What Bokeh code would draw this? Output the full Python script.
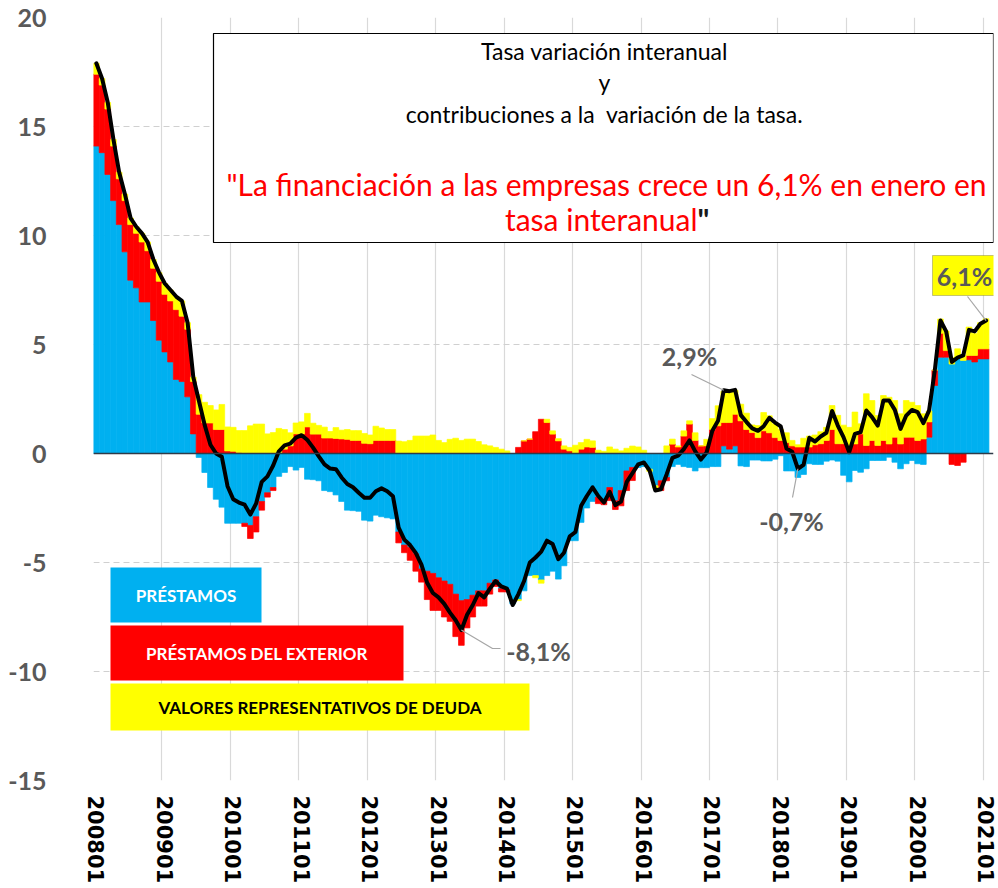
import numpy as np
from bokeh.plotting import figure
from bokeh.models import ColumnDataSource, FixedTicker, Span, BoxAnnotation, Label, Range1d
from bokeh.embed import file_html
from bokeh.resources import INLINE

# ---------------- data (monthly, 2008-01 .. 2021-01) ----------------
tick_labels = ["200801", "200901", "201001", "201101", "201201", "201301", "201401",
               "201501", "201601", "201701", "201801", "201901", "202001", "202101"]

prestamos = [
    14.1, 13.8, 12.8, 11.6, 10.5, 9.25, 7.95, 7.6, 6.95, 6.95, 6.1, 5.2,          # 2008
    4.66, 4.2, 3.4, 3.3, 2.6, 0.9, -0.18, -0.87, -1.56, -2.1, -2.46, -3.2,         # 2009
    -3.2, -3.2, -3.2, -3.3, -2.9, -2.2, -1.8, -1.56, -1.05, -0.87, -0.6, -0.76,    # 2010
    -0.64, -1.18, -1.2, -1.25, -1.7, -1.75, -1.9, -2.2, -2.6, -2.62, -2.65, -3.06, # 2011
    -3.1, -2.83, -2.9, -2.95, -3.0, -3.6, -4.2, -4.3, -4.6, -5.3, -5.4, -5.5,      # 2012
    -5.7, -5.85, -6.0, -6.45, -6.75, -6.7, -6.5, -6.3, -6.3, -5.95, -5.8, -6.2,    # 2013
    -6.25, -6.9, -6.7, -6.3, -5.6, -5.6, -5.8, -5.6, -5.4, -5.76, -5.15, -4.0,     # 2014
    -4.0, -3.16, -2.5, -2.2, -2.0, -2.2, -1.56, -2.17, -1.7, -0.8, -0.64, -0.64,   # 2015
    -0.6, -0.72, -1.48, -1.25, -1.1, -0.6, -0.5, -0.6, -0.64, -0.8, -0.65, -0.65,  # 2016
    -0.6, -0.6, 0.35, 0.2, 0.35, -0.57, -0.6, -0.3, -0.3, -0.34, -0.34, -0.26,     # 2017
    -0.1, -0.8, -0.8, -1.1, -0.96, -0.47, -0.5, -0.5, -0.35, -0.3, -0.35, -1.0,    # 2018
    -1.3, -0.78, -0.86, -0.7, -0.32, -0.32, -0.32, -0.17, -0.4, -0.7, -0.47, -0.32,# 2019
    -0.47, -0.5, 0.75, 3.12, 4.42, 4.42, 4.1, 4.42, 4.27, 4.3, 4.2, 4.34,          # 2020
    4.34,                                                                          # 2021
]

exterior = [
    3.3, 3.1, 3.0, 2.5, 2.1, 2.35, 2.55, 2.5, 2.75, 2.35, 2.4, 2.7,
    2.64, 2.8, 3.2, 3.0, 3.1, 2.4, 1.8, 1.4, 1.4, 1.1, 1.1, 0.12,
    0.1, 0.05, -0.15, -0.6, -0.7, -0.4, -0.2, -0.14, 0.0, 0.2, 0.35, 0.9,
    0.9, 1.22, 0.89, 0.89, 0.71, 0.71, 0.69, 0.67, 0.65, 0.6, 0.6, 0.47,
    0.45, 0.6, 0.6, 0.6, 0.6, -0.5, -0.35, -0.6, -0.8, -0.6, -1.3, -1.7,
    -1.5, -1.65, -1.7, -1.95, -2.05, -1.3, -1.0, -0.7, -0.7, -0.5, -0.3, -0.15,
    -0.1, 0.0, 0.28, 0.58, 0.66, 1.0, 1.57, 1.42, 0.89, 0.58, 0.2, 0.12,
    0.0, 0.2, 0.3, 0.28, -0.3, -0.15, -0.6, -0.4, -0.7, -0.9, -0.6, 0.0,
    0.0, 0.0, 0.0, -0.45, -0.15, 0.43, 0.3, 0.8, 1.35, 0.6, 0.35, 0.35,
    1.1, 1.27, 1.07, 1.22, 1.45, 1.5, 1.1, 0.96, 0.73, 1.04, 0.95, 0.73,
    0.6, 0.5, 0.35, 0.3, 0.3, 0.3, 0.4, 0.45, 0.6, 1.1, 0.45, 0.45,
    0.3, 0.44, 0.9, 0.37, 0.6, 0.37, 0.6, 0.44, 0.75, 0.44, 0.75, 0.75,
    0.6, 0.67, 0.7, 0.7, 1.1, 0.3, -0.5, -0.55, -0.4, 0.2, 0.3, 0.46,
    0.46,
]

valores = [
    0.5, 0.3, 0.3, 0.3, 0.3, 0.3, 0.3, 0.3, 0.4, 0.4, 0.4, 0.4,
    0.5, 0.5, 0.6, 0.7, 0.3, 0.2, 0.9, 0.95, 0.8, 0.9, 1.15, 1.1,
    1.1, 1.0, 1.05, 1.27, 1.35, 1.35, 0.9, 0.96, 1.15, 0.9, 0.6, 0.5,
    0.55, 0.62, 0.5, 0.4, 0.5, 0.3, 0.5, 0.4, 0.45, 0.45, 0.45, 0.45,
    0.4, 0.65, 0.57, 0.5, 0.5, 0.57, 0.54, 0.6, 0.8, 0.8, 0.8, 0.85,
    0.6, 0.5, 0.65, 0.7, 0.6, 0.66, 0.66, 0.55, 0.4, 0.35, 0.28, 0.2,
    0.12, 0.0, -0.05, 0.0, 0.0, -0.1, -0.15, 0.15, 0.15, 0.1, 0.15, 0.16,
    0.38, 0.3, 0.35, 0.3, 0.15, 0.1, 0.3, 0.2, 0.12, 0.24, 0.34, 0.3,
    0.15, -0.1, -0.1, 0.0, 0.35, 0.23, 0.05, 0.24, 0.15, 0.35, 0.0, 0.3,
    0.5, 0.92, 1.43, 1.43, 1.1, 0.76, 0.75, 0.35, 0.55, 0.84, 0.78, 0.62,
    0.5, 0.45, 0.25, 0.1, 0.4, 0.5, 0.45, 0.55, 0.6, 1.1, 1.3, 0.85,
    0.9, 1.46, 0.46, 2.37, 1.83, 1.37, 2.06, 2.14, 1.68, 1.38, 1.68, 1.6,
    1.6, 1.15, 0.5, 0.0, 0.65, 0.9, 0.3, 0.38, 0.23, 1.3, 1.0, 1.2,
    1.38,
]

total = [
    17.9, 17.2, 16.1, 14.4, 12.9, 11.9, 10.8, 10.4, 10.1, 9.7, 8.9, 8.3,
    7.8, 7.5, 7.2, 7.0, 6.0, 3.5, 2.4, 1.3, 0.4, 0.0, -0.15, -1.5,
    -2.1, -2.25, -2.35, -2.8, -2.3, -1.3, -1.05, -0.55, 0.1, 0.37, 0.45, 0.73,
    0.84, 0.62, 0.27, -0.13, -0.5, -0.69, -0.72, -1.1, -1.4, -1.55, -1.8, -2.03,
    -2.03, -1.73, -1.6, -1.73, -1.96, -3.4, -3.95, -4.2, -4.56, -5.1, -5.93, -6.4,
    -6.6, -6.9, -7.3, -7.65, -8.1, -7.4, -6.95, -6.4, -6.6, -6.2, -5.85, -6.1,
    -6.2, -6.95, -6.45, -5.85, -5.0, -4.77, -4.5, -4.0, -4.15, -4.85, -4.55, -3.8,
    -3.6, -2.4, -1.95, -1.55, -1.95, -2.25, -1.76, -2.37, -2.2, -1.3, -0.9, -0.5,
    -0.41, -0.78, -1.7, -1.64, -0.95, -0.2, -0.1, 0.2, 0.6, 0.1, -0.28, 0.05,
    1.04, 1.5, 2.9, 2.86, 2.92, 1.76, 1.44, 1.15, 1.04, 1.25, 1.64, 1.42,
    1.24, 0.23, 0.08, -0.7, -0.52, 0.72, 0.55, 0.78, 0.95, 1.95, 1.28, 0.75,
    0.06, 0.9, 0.98, 1.97, 1.67, 1.28, 2.43, 2.43, 2.0, 1.13, 1.74, 2.0,
    1.9, 1.39, 1.97, 3.8, 6.1, 5.6, 4.2, 4.4, 4.5, 5.67, 5.6, 5.95,
    6.1,
]

series_names = ["PRÉSTAMOS", "PRÉSTAMOS DEL EXTERIOR", "VALORES REPRESENTATIVOS DE DEUDA"]
series_colors = ["#00B0F0", "#FF0000", "#FFFF00"]
title_lines = ["Tasa variación interanual", "y", "contribuciones a la\u00a0 variación de la tasa."]
headline = ['"La financiación a las empresas crece un 6,1% en enero en', "tasa interanual"]

# annotated points: (month index, label)
annotations = [(110, "2,9%"), (123, "-0,7%"), (64, "-8,1%"), (156, "6,1%")]

n = len(total)
assert len(prestamos) == n and len(exterior) == n and len(valores) == n
xs = np.arange(n)

# stacking like Excel: positives and negatives stack separately
pos = np.zeros(n)
neg = np.zeros(n)
stacks = []
for s in (prestamos, exterior, valores):
    s = np.array(s, dtype=float)
    b = np.where(s >= 0, pos, neg + s)
    t = np.where(s >= 0, pos + s, neg)
    pos = np.where(s >= 0, pos + s, pos)
    neg = np.where(s < 0, neg + s, neg)
    stacks.append((b, t))

# ---------------- figure ----------------
W, H = 998, 888
BL, BR, BT, BB = 93, 5, 17, 108
X_END = 157.3
p = figure(width=W, height=H, title=None,
           x_range=Range1d(-0.5, X_END), y_range=Range1d(-15, 20),
           output_backend="svg", toolbar_location=None,
           min_border_left=BL, min_border_right=BR, min_border_top=BT, min_border_bottom=BB)
p.outline_line_color = None
p.background_fill_color = "white"
p.border_fill_color = "white"

# pixel helpers for decorations (page pixels -> data)
FRAME_W = W - BL - BR
FRAME_H = H - BT - BB
PXM = FRAME_W / (X_END + 0.5)
PYU = FRAME_H / 35.0
def xd(px):
    return -0.5 + (px - BL) / PXM
def yd(py):
    return 20 - (py - BT) / PYU

# grids
p.ygrid.ticker = FixedTicker(ticks=[-15, -10, -5, 5, 10, 15, 20])
p.ygrid.grid_line_color = "#D0D0D0"
p.ygrid.grid_line_dash = "6 4"
p.ygrid.grid_line_width = 1
p.xgrid.ticker = FixedTicker(ticks=[12 * k - 0.5 for k in range(len(tick_labels))])
p.xgrid.grid_line_color = "#D9D9D9"
p.xgrid.grid_line_width = 1.2

# bars
for (b, t), col, name in zip(stacks, series_colors, series_names):
    src = ColumnDataSource(dict(x=xs, b=b, t=t))
    p.vbar(x="x", width=1.0, bottom="b", top="t", source=src,
           fill_color=col, line_color=col, line_width=0.7)

p.add_layout(Span(location=0, dimension="width", line_color="#2F3B48", line_width=1.3))

# total line
p.line(xs, total, line_color="black", line_width=4, line_join="round", line_cap="round")

# axes
p.yaxis.ticker = FixedTicker(ticks=[-15, -10, -5, 0, 5, 10, 15, 20])
p.yaxis.major_label_overrides = {v: str(v) for v in [-15, -10, -5, 0, 5, 10, 15, 20]}
p.yaxis.axis_line_color = None
p.yaxis.major_tick_line_color = None
p.yaxis.minor_tick_line_color = None
p.yaxis.major_label_standoff = 41
p.yaxis.major_label_text_font = "Lato"
p.yaxis.major_label_text_font_style = "bold"
p.yaxis.major_label_text_font_size = "25px"
p.yaxis.major_label_text_color = "#595959"

p.xaxis.ticker = FixedTicker(ticks=[12 * k for k in range(len(tick_labels))])
p.xaxis.major_label_overrides = {12 * k: lab for k, lab in enumerate(tick_labels)}
p.xaxis.major_label_orientation = "vertical"
p.xaxis.axis_line_color = None
p.xaxis.major_tick_line_color = None
p.xaxis.minor_tick_line_color = None
p.xaxis.major_label_standoff = 9
p.xaxis.major_label_text_font = "DejaVu Sans"
p.xaxis.major_label_text_font_style = "bold"
p.xaxis.major_label_text_font_size = "21px"
p.xaxis.major_label_text_color = "black"

# title box
p.add_layout(BoxAnnotation(left=xd(213), right=xd(993), top=yd(33), bottom=yd(242),
                           fill_color="white", fill_alpha=1, line_color="black", line_width=1.2,
                           line_alpha=1))
for txt, py in zip(title_lines, [50, 81, 113]):
    p.add_layout(Label(x=xd(604), y=yd(py), text=txt, text_align="center", text_baseline="middle",
                       text_font="Lato", text_font_size="23px", text_color="black"))
p.add_layout(Label(x=xd(606), y=yd(183), text=headline[0], text_align="center",
                   text_baseline="middle", text_font="Lato", text_font_size="30px",
                   text_color="#FF0000"))
p.add_layout(Label(x=xd(697), y=yd(218), text=headline[1], text_align="right",
                   text_baseline="middle", text_font="Lato", text_font_size="30px",
                   text_color="#FF0000"))
p.add_layout(Label(x=xd(697), y=yd(218), text='"', text_align="left",
                   text_baseline="middle", text_font="Lato", text_font_size="30px",
                   text_font_style="bold", text_color="#1a1a1a"))

# legend boxes
leg_boxes = [(110, 261, 567, 622), (110, 403, 625, 680), (110, 529, 683, 730)]
leg_text_col = ["white", "white", "black"]
for (l, r, t, b), col, name, tc in zip(leg_boxes, series_colors, series_names, leg_text_col):
    p.add_layout(BoxAnnotation(left=xd(l), right=xd(r), top=yd(t), bottom=yd(b),
                               fill_color=col, fill_alpha=1, line_color=None))
    p.add_layout(Label(x=xd((l + r) / 2), y=yd((t + b) / 2), text=name, text_align="center",
                       text_baseline="middle", text_font="Lato", text_font_size="17px",
                       text_font_style="bold", text_color=tc))

# data annotations with leader lines
lead_col = "#A6A6A6"
lab_pos = {110: (689, 355), 123: (791, 520), 64: (538, 650), 156: (964, 275)}
lead_from = {110: [(691, 374)], 123: [(792, 497)], 64: [(500, 648), (492, 648)], 156: [(967, 296)]}
for idx, txt in annotations:
    pts = lead_from[idx]
    lx = [xd(px) for px, _ in pts] + [idx]
    ly = [yd(py) for _, py in pts] + [total[idx]]
    p.line(lx, ly, line_color=lead_col, line_width=1.2)
    cx, cy = lab_pos[idx]
    if idx == 156:
        p.add_layout(BoxAnnotation(left=xd(932), right=xd(997), top=yd(255), bottom=yd(295),
                                   fill_color="#FFFF00", fill_alpha=1, line_color="#404040",
                                   line_width=1))
    p.add_layout(Label(x=xd(cx), y=yd(cy), text=txt, text_align="center", text_baseline="middle",
                       text_font="Lato", text_font_size="25px", text_font_style="bold",
                       text_color="#595959"))

open("out.html", "w").write(file_html(p, INLINE))
